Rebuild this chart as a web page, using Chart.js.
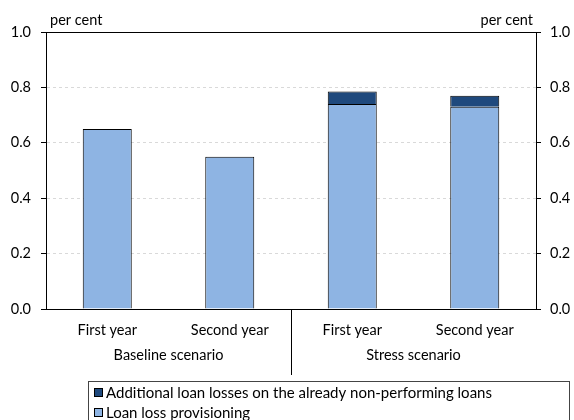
<!DOCTYPE html>
<html>
<head>
<meta charset="utf-8">
<script src="https://cdn.jsdelivr.net/npm/chart.js@4/dist/chart.umd.min.js"></script>
<style>
  html, body { margin: 0; padding: 0; background: #fff; }
</style>
</head>
<body>
<canvas id="chart" width="574" height="420"></canvas>
<script>
// data
const years = ['First year', 'Second year', 'First year', 'Second year'];
const scenarios = ['Baseline scenario', 'Stress scenario'];
const provisioning = [0.65, 0.55, 0.74, 0.73];
const additionalLosses = [null, null, 0.045, 0.04];
const unitLabel = 'per cent';

const FONT = 'Lato, "Open Sans", sans-serif';
const darkBlue = '#1F497D';
const lightBlue = '#8EB4E3';

// extra drawing: top frame line, group labels, separator, per cent, legend box
const extras = {
  id: 'extras',
  afterDraw(chart) {
    const ctx = chart.ctx;
    const area = chart.chartArea;
    const x = chart.scales.x;
    ctx.save();
    ctx.strokeStyle = '#000';
    ctx.lineWidth = 1;

    // top line of the plot frame
    ctx.beginPath();
    ctx.moveTo(Math.round(area.left) - 5, Math.round(area.top) + 0.5);
    ctx.lineTo(Math.round(area.right) + 5, Math.round(area.top) + 0.5);
    ctx.stroke();

    // separator between the two scenarios
    const sepX = Math.round((x.getPixelForValue(1) + x.getPixelForValue(2)) / 2) + 0.5;
    ctx.beginPath();
    ctx.moveTo(sepX, area.bottom);
    ctx.lineTo(sepX, 375);
    ctx.stroke();

    ctx.fillStyle = '#000';
    ctx.font = '14.5px ' + FONT;
    ctx.textBaseline = 'middle';
    ctx.textAlign = 'center';
    scenarios.forEach((s, i) => {
      const cx = (x.getPixelForValue(i * 2) + x.getPixelForValue(i * 2 + 1)) / 2;
      ctx.fillText(s, cx, 355);
    });

    // unit labels
    ctx.textAlign = 'left';
    ctx.fillText(unitLabel, 50, 20);
    ctx.textAlign = 'right';
    ctx.fillText(unitLabel, 533, 20);

    // legend box
    ctx.strokeStyle = '#444';
    ctx.strokeRect(88.5, 381.5, 481, 60);
    ctx.strokeStyle = '#000';
    ctx.font = '15px ' + FONT;
    const items = chart.data.datasets.slice().reverse();
    ctx.textAlign = 'left';
    items.forEach((ds, i) => {
      const cy = 393 + i * 20;
      ctx.fillStyle = ds.backgroundColor;
      ctx.fillRect(94, cy - 4, 8, 8);
      ctx.strokeRect(94.5, cy - 4.5, 8, 8);
      ctx.fillStyle = '#000';
      ctx.fillText(ds.label, 106, cy);
    });
    ctx.restore();
  }
};

new Chart(document.getElementById('chart'), {
  type: 'bar',
  data: {
    labels: years,
    datasets: [
      {
        label: 'Loan loss provisioning',
        data: provisioning,
        backgroundColor: lightBlue,
        borderColor: '#000',
        borderWidth: 1,
        barPercentage: 0.4,
        categoryPercentage: 1.0
      },
      {
        label: 'Additional loan losses on the already non-performing loans',
        data: additionalLosses,
        backgroundColor: darkBlue,
        borderColor: '#000',
        borderWidth: 1,
        barPercentage: 0.4,
        categoryPercentage: 1.0
      }
    ]
  },
  options: {
    responsive: false,
    animation: false,
    layout: { padding: { top: 32, left: 0, right: 0, bottom: 0 } },
    plugins: {
      legend: { display: false },
      tooltip: { enabled: false }
    },
    scales: {
      x: {
        stacked: true,
        grid: { display: false, drawTicks: false },
        border: { display: true, color: '#000', width: 1 },
        ticks: { color: '#000', padding: 13, font: { family: FONT, size: 14.5 } },
        afterFit(scale) { scale.height = 111; }
      },
      y: {
        stacked: true,
        position: 'left',
        min: 0,
        max: 1,
        ticks: {
          stepSize: 0.2,
          color: '#000',
          padding: 10,
          font: { family: FONT, size: 14.5 },
          callback: v => v.toFixed(1)
        },
        grid: {
          color: c => (c.tick && (c.tick.value === 0 || c.tick.value === 1)) ? 'rgba(0,0,0,0)' : '#d9d9d9',
          tickColor: '#000',
          tickLength: 5,
          lineWidth: 1
        },
        border: { display: true, color: '#000', width: 1, dash: [3, 3] },
        afterFit(scale) { scale.width = 46; }
      },
      y2: {
        position: 'right',
        min: 0,
        max: 1,
        ticks: {
          stepSize: 0.2,
          color: '#000',
          padding: 9,
          font: { family: FONT, size: 14.5 },
          callback: v => v.toFixed(1)
        },
        grid: { drawOnChartArea: false, tickColor: '#000', tickLength: 5 },
        border: { display: true, color: '#000', width: 1 },
        afterFit(scale) { scale.width = 38; }
      }
    }
  },
  plugins: [extras]
});
</script>
</body>
</html>
